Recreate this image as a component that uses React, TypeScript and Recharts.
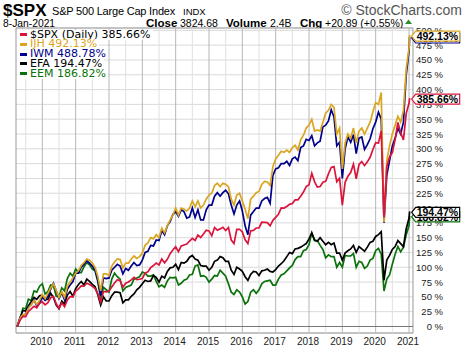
import React from "react";
import {
  LineChart,
  Line,
  XAxis,
  YAxis,
  CartesianGrid,
  ReferenceLine,
  ReferenceArea,
} from "recharts";

// % change since 30-Mar-2009, month-end samples Apr 2009 .. Dec 2020, plus first and last day
const START = 2009.245;
const END = 2021.02;

const spx = [
  0,
  10.8, 16.7, 16.7, 25.4, 29.6, 34.2, 31.6, 39.1, 41.6,
  36.4, 40.2, 48.5, 50.7, 38.3, 30.9, 39.9, 33.2, 44.9, 50.3, 49.9, 59.7,
  63.3, 68.5, 68.3, 73.1, 70.8, 67.7, 64.1, 54.8, 41.0, 59.1, 58.3, 59.7,
  66.6, 73.4, 78.9, 77.5, 66.4, 73.0, 75.1, 78.6, 82.9, 79.3, 79.8, 81.1,
  90.2, 92.3, 99.3, 102.9, 107.1, 104.0, 114.0, 107.4, 113.5, 123.0, 129.3, 134.7,
  126.4, 136.1, 137.7, 139.2, 144.3, 148.9, 145.2, 154.4, 150.4, 156.3, 162.5, 161.4,
  153.3, 167.2, 162.6, 164.8, 167.6, 162.0, 167.1, 146.0, 140.0, 164.0, 164.2, 159.5,
  146.4, 140.0, 161.5, 162.3, 166.3, 166.5, 176.0, 175.7, 175.3, 170.0, 179.2, 184.3,
  189.4, 200.1, 200.0, 202.7, 206.2, 207.7, 213.7, 213.9, 219.9, 227.0, 236.2, 239.5,
  258.6, 244.6, 235.3, 236.3, 243.5, 245.2, 257.6, 268.4, 270.0, 244.3, 250.5, 205.0,
  243.4, 253.6, 259.9, 274.1, 249.5, 273.5, 278.4, 271.6, 278.0, 285.7, 298.8, 310.2,
  309.6, 330.0, 184.1, 269.8, 286.6, 293.7, 315.4, 344.5, 327.0, 315.2, 359.9, 376.9,
  385.66,
];

const ijh = [
  0,
  14, 20, 20, 31, 37, 44, 37, 44, 54,
  47, 56, 65, 72, 61, 49, 59, 49, 68, 75, 82, 90,
  94, 103, 108, 114, 112, 107, 100, 84, 60, 89, 89, 86,
  102, 109, 114, 113, 99, 107, 107, 114, 119, 115, 118, 124,
  137, 141, 150, 148, 155, 150, 166, 158, 170, 180, 188, 200,
  188, 200, 198, 195, 200, 212, 202, 212, 200, 205, 215, 222,
  225, 238, 242, 236, 242, 240, 236, 215, 205, 222, 225, 212,
  198, 182, 215, 220, 226, 228, 240, 245, 244, 238, 270, 283,
  289, 296, 294, 298, 294, 302, 306, 298, 315, 323, 335, 340,
  350, 330, 332, 330, 345, 360, 365, 375, 370, 325, 335, 266,
  310, 325, 318, 335, 310, 330, 335, 325, 335, 345, 362, 378,
  375, 395, 176, 280, 305, 325, 340, 355, 345, 365, 435, 470,
  492.13,
];

const iwm = [
  0,
  16, 19, 21, 33, 37, 45, 35, 39, 50,
  44, 51, 63, 73, 60, 47, 57, 45, 63, 70, 76, 90,
  90, 100, 105, 111, 107, 102, 95, 78, 52, 82, 81, 82,
  95, 100, 105, 102, 89, 98, 95, 102, 108, 103, 104, 112,
  125, 127, 137, 136, 146, 145, 162, 155, 170, 177, 189, 194,
  186, 197, 194, 183, 185, 200, 184, 197, 180, 180, 197, 205,
  205, 220, 226, 220, 226, 230, 224, 205, 190, 205, 212, 195,
  170, 155, 188, 194, 200, 200, 212, 216, 218, 208, 255, 266,
  268, 275, 275, 279, 272, 283, 286, 280, 302, 305, 316, 314,
  322, 305, 310, 313, 337, 340, 347, 366, 354, 305, 311, 250,
  300, 320, 311, 324, 292, 318, 320, 299, 307, 317, 334, 345,
  362, 350, 175, 255, 280, 305, 318, 335, 325, 345, 425, 465,
  488.78,
];

const efa = [
  0,
  13, 27, 26, 35, 42, 49, 46, 52, 53,
  45, 46, 56, 49, 36, 30, 43, 38, 53, 59, 51, 64,
  71, 76, 70, 80, 76, 71, 67, 53, 36, 50, 43, 43,
  52, 58, 58, 57, 40, 45, 45, 51, 55, 62, 66, 72,
  78, 76, 77, 86, 83, 75, 85, 82, 93, 99, 100, 105,
  96, 108, 107, 110, 117, 120, 114, 112, 103, 102, 102, 95,
  100, 110, 112, 118, 116, 110, 110, 95, 88, 100, 97, 93,
  84, 78, 88, 93, 92, 86, 94, 95, 97, 93, 92, 96,
  102, 106, 111, 118, 125, 123, 131, 132, 134, 137, 140, 148,
  158, 146, 144, 150, 144, 138, 142, 138, 141, 124, 124, 112,
  124, 128, 131, 137, 125, 135, 131, 127, 134, 142, 144, 152,
  155, 160, 78, 112, 120, 130, 135, 145, 140, 135, 165, 183,
  194.47,
];

const eem = [
  0,
  13, 31, 30, 46, 44, 60, 58, 68, 72,
  55, 59, 70, 69, 51, 50, 65, 60, 81, 90, 85, 97,
  91, 91, 101, 108, 104, 97, 94, 75, 47, 66, 62, 58,
  80, 90, 84, 80, 60, 66, 68, 70, 80, 82, 84, 92,
  90, 85, 85, 87, 76, 67, 70, 66, 77, 83, 82, 83,
  70, 73, 78, 80, 87, 88, 102, 104, 85, 86, 83, 75,
  80, 86, 85, 95, 90, 85, 72, 58, 54, 62, 58, 50,
  38, 42, 58, 62, 56, 62, 72, 76, 77, 78, 70, 70,
  80, 87, 89, 94, 99, 103, 113, 118, 118, 128, 130, 138,
  158, 145, 145, 137, 130, 116, 121, 118, 118, 100, 108, 100,
  120, 119, 119, 123, 100, 110, 108, 98, 102, 112, 115, 128,
  132, 122, 60, 80, 87, 105, 122, 135, 126, 134, 155, 170,
  186.82,
];

const yearTicks = [2010, 2011, 2012, 2013, 2014, 2015, 2016, 2017, 2018, 2019, 2020, 2021];
const halfYears = [2009.5, 2010.5, 2011.5, 2012.5, 2013.5, 2014.5, 2015.5, 2016.5, 2017.5, 2018.5, 2019.5, 2020.5];
const pctTicks = [0, 25, 50, 75, 100, 125, 150, 175, 200, 225, 250, 275, 300, 325, 350, 375, 400, 425, 450, 475, 500];

const X_DOMAIN: [number, number] = [2009.21, 2021.12];
const Y_DOMAIN: [number, number] = [-11, 504];

const dates: number[] = [START];
for (let y = 2009; y <= 2020; y++) {
  for (let m = y === 2009 ? 4 : 1; m <= 12; m++) dates.push(y + m / 12);
}
dates.push(END);

const rows = dates.map((t, i) => ({
  t,
  spx: spx[i],
  ijh: ijh[i],
  iwm: iwm[i],
  efa: efa[i],
  eem: eem[i],
}));
const LAST = rows.length - 1;

const series = [
  { key: "eem", name: "EEM", color: "#0a720a", text: "#0a720a" },
  { key: "efa", name: "EFA", color: "#000000", text: "#000000" },
  { key: "iwm", name: "IWM", color: "#00008b", text: "#00008b" },
  { key: "ijh", name: "IJH", color: "#daa520", text: "#daa520" },
  { key: "spx", name: "$SPX (Daily)", color: "#dc143c", text: "#000000" },
];
const legendOrder = ["spx", "ijh", "iwm", "efa", "eem"];

const FONT = "'Liberation Sans', Arial, sans-serif";

function PctTick(p: any) {
  return (
    <text x={443} y={p.y + 3.5} textAnchor="end" fontSize={9.5} fill="#222" fontFamily={FONT}>
      {`${p.payload.value} %`}
    </text>
  );
}

function YearTick(p: any) {
  return (
    <text x={p.x - 1} y={345} textAnchor="middle" fontSize={10} fill="#222" fontFamily={FONT}>
      {p.payload.value}
    </text>
  );
}

function tagFor(color: string, last: number) {
  return (p: any) => {
    const isLast = p.index === LAST || (p.index === undefined && p.value === last);
    if (!isLast || p.x == null || p.y == null) return null;
    const lx = p.x + 2;
    const cy = p.y + 1;
    return (
      <g>
        <polygon
          points={`${lx},${cy} ${lx + 4},${cy - 5} ${lx + 48},${cy - 5} ${lx + 48},${cy + 5} ${lx + 4},${cy + 5}`}
          fill="#fff"
          stroke={color}
          strokeWidth={1.2}
        />
        <text x={lx + 5} y={cy + 3.8} fontSize={10.5} fontWeight="bold" fill="#000" fontFamily={FONT}>
          {`${Number(p.value).toFixed(2)}%`}
        </text>
      </g>
    );
  };
}

export default function App() {
  const byKey: Record<string, (typeof series)[number]> = {};
  series.forEach((s) => (byKey[s.key] = s));
  const lastVals: Record<string, number> = {
    spx: spx[LAST], ijh: ijh[LAST], iwm: iwm[LAST], efa: efa[LAST], eem: eem[LAST],
  };

  return (
    <div style={{ position: "absolute", left: 0, top: 0, width: 463, height: 351, background: "#fff", fontFamily: FONT }}>
      <LineChart width={463} height={351} data={rows} margin={{ top: 28, right: 0, bottom: 0, left: 16 }}>
        <CartesianGrid vertical={false} stroke="#dadada" />
        {halfYears.map((h) => (
          <ReferenceLine key={`h${h}`} x={h} stroke="#e0e0e0" />
        ))}
        {yearTicks.map((y) => (
          <ReferenceLine key={`y${y}`} x={y} stroke="#b6b6b6" />
        ))}
        <ReferenceLine y={0} stroke="#777" />
        <ReferenceArea x1={X_DOMAIN[0]} x2={X_DOMAIN[1]} y1={Y_DOMAIN[0]} y2={Y_DOMAIN[1]} fill="none" stroke="#999" />
        <XAxis
          type="number"
          dataKey="t"
          domain={X_DOMAIN}
          ticks={yearTicks}
          height={18}
          tickLine={false}
          axisLine={false}
          tick={<YearTick />}
          interval={0}
        />
        <YAxis
          orientation="right"
          width={50}
          domain={Y_DOMAIN}
          ticks={pctTicks}
          tickLine={false}
          axisLine={false}
          tick={<PctTick />}
          interval={0}
        />
        {series.map((s) => (
          <Line
            key={s.key}
            type="linear"
            dataKey={s.key}
            stroke={s.color}
            strokeWidth={1.7}
            dot={false}
            isAnimationActive={false}
            label={tagFor(s.color, lastVals[s.key])}
          />
        ))}
      </LineChart>

      {/* header */}
      <svg width={463} height={28} style={{ position: "absolute", left: 0, top: 0 }}>
        <text x={3} y={16} fontSize={17} fontWeight="bold" fill="#000" fontFamily={FONT}>$SPX</text>
        <text x={52} y={14.5} fontSize={11} letterSpacing={-0.2} fill="#000" fontFamily={FONT}>S&amp;P 500 Large Cap Index</text>
        <text x={183} y={14.5} fontSize={9.5} fill="#000" fontFamily={FONT}>INDX</text>
        <text x={462} y={14.5} textAnchor="end" fontSize={14} fill="#555" fontFamily={FONT}>© StockCharts.com</text>
        <text x={3} y={26.5} fontSize={10.3} fill="#000" fontFamily={FONT}>8-Jan-2021</text>
        <text x={146} y={26.5} fontSize={11.5} fontWeight="bold" fill="#000" fontFamily={FONT}>Close</text>
        <text x={180} y={26.5} fontSize={10.5} fill="#000" fontFamily={FONT}>3824.68</text>
        <text x={226} y={26.5} fontSize={11.5} fontWeight="bold" fill="#000" fontFamily={FONT}>Volume</text>
        <text x={270} y={26.5} fontSize={10.5} fill="#000" fontFamily={FONT}>2.4B</text>
        <text x={300} y={26.5} fontSize={11.5} fontWeight="bold" fill="#000" fontFamily={FONT}>Chg</text>
        <text x={325} y={26.5} fontSize={10.5} fill="#000" fontFamily={FONT}>+20.89 (+0.55%)</text>
        <polygon points="405,24 408.5,19.5 412,24" fill="#2e8b2e" />
      </svg>

      {/* legend */}
      {legendOrder.map((k, i) => {
        const s = byKey[k];
        return (
          <div
            key={k}
            style={{
              position: "absolute",
              left: 17,
              top: 29.5 + i * 9.8,
              height: 10,
              lineHeight: "10px",
              background: "#fff",
              paddingRight: 2,
              whiteSpace: "nowrap",
              fontFamily: "'DejaVu Sans', Verdana, sans-serif",
              fontSize: 11,
              color: s.text,
            }}
          >
            <span style={{ display: "inline-block", width: 7, height: 3, background: s.color, marginLeft: 3, marginRight: 3, verticalAlign: "middle" }} />
            {`${s.name} ${lastVals[k].toFixed(2)}%`}
          </div>
        );
      })}
    </div>
  );
}
